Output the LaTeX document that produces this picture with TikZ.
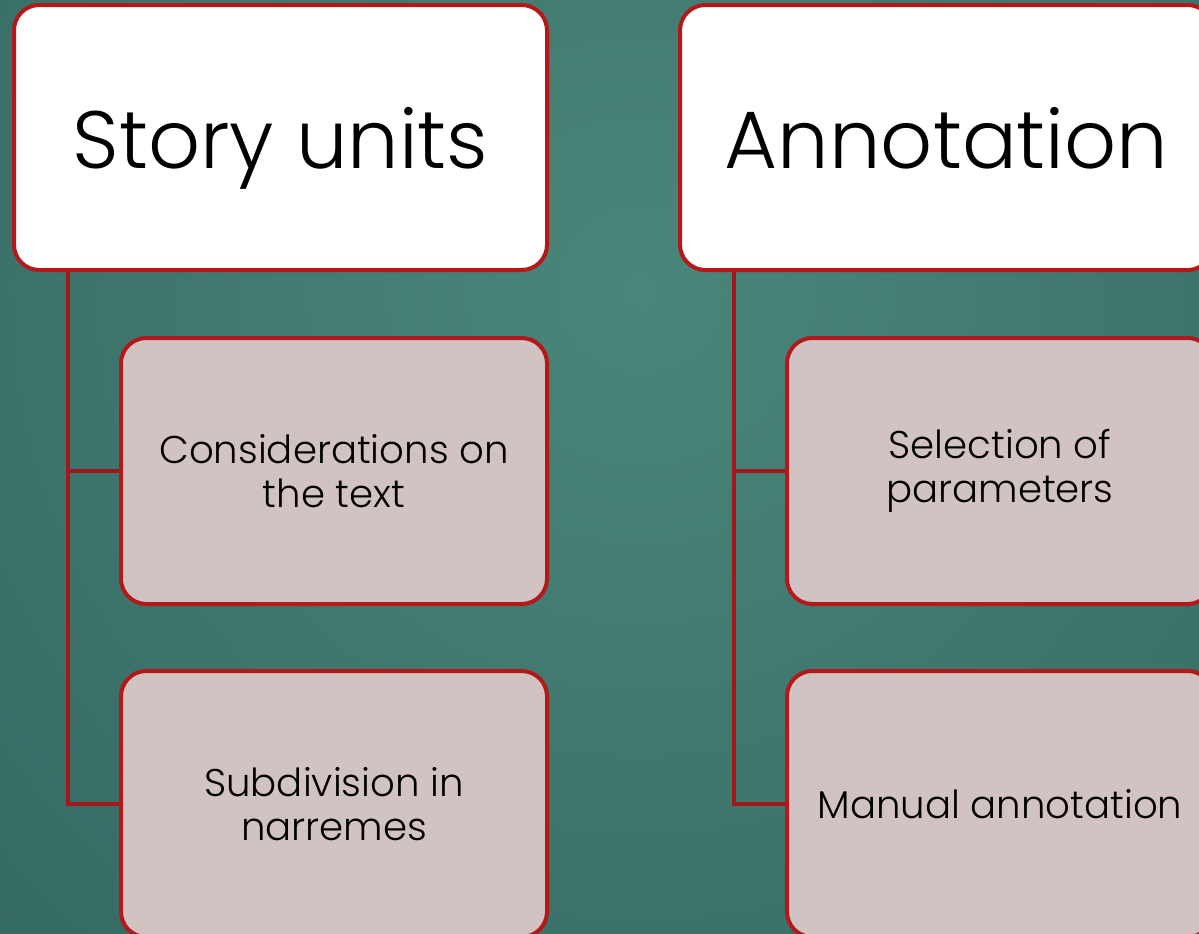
\documentclass[tikz,border=0pt]{standalone}
\usepackage{fontspec}
\setmainfont{Poppins}[UprightFont = * Light]
\definecolor{bgin}{HTML}{4A867A}
\definecolor{bgout}{HTML}{22504E}
\definecolor{edge}{HTML}{B3181B}
\definecolor{link}{HTML}{9E191B}
\definecolor{childfill}{HTML}{D2C3C3}
\tikzset{
  px/.style={x=0.75pt,y=-0.75pt},
  rootbox/.style={draw=edge, line width=3pt, fill=white, rounded corners=19pt,
    minimum width=399.75pt, minimum height=198.75pt, inner sep=0pt,
    text depth=0pt, font=\fontsize{61}{72}\selectfont, text=black},
  childbox/.style={draw=edge, line width=3pt, fill=childfill, rounded corners=19pt,
    minimum width=319.5pt, minimum height=199.5pt, inner sep=0pt, align=center,
    font=\fontsize{29}{32.5}\selectfont, text=black},
  linkline/.style={draw=link, line width=2.6pt}
}
\begin{document}
\begin{tikzpicture}[px]
  % backdrop with a soft radial glow
  \useasboundingbox (0,0) rectangle (1199,933);
  \begin{scope}
    \clip (0,0) rectangle (1199,933);
    \shade[inner color=bgin, outer color=bgout] (640,290) circle (1300pt);
  \end{scope}

  % left branch
  \node[rootbox]  (L)  at (280.5,137.5) {Story units};
  \node[childbox] (L1) at (334,471) {Considerations on\\the text};
  \node[childbox] (L2) at (334,804) {Subdivision in\\narremes};
  \draw[linkline] ([xshift=42pt]L.south west) |- (L1.west);
  \draw[linkline] ([xshift=42pt]L.south west) |- (L2.west);

  % right branch
  \node[rootbox]  (R)  at (946.5,137.5) {Annotation};
  \node[childbox] (R1) at (1000,471) {Selection of\\parameters};
  \node[childbox] (R2) at (1000,804) {Manual annotation};
  \draw[linkline] ([xshift=42pt]R.south west) |- (R1.west);
  \draw[linkline] ([xshift=42pt]R.south west) |- (R2.west);
\end{tikzpicture}
\end{document}
